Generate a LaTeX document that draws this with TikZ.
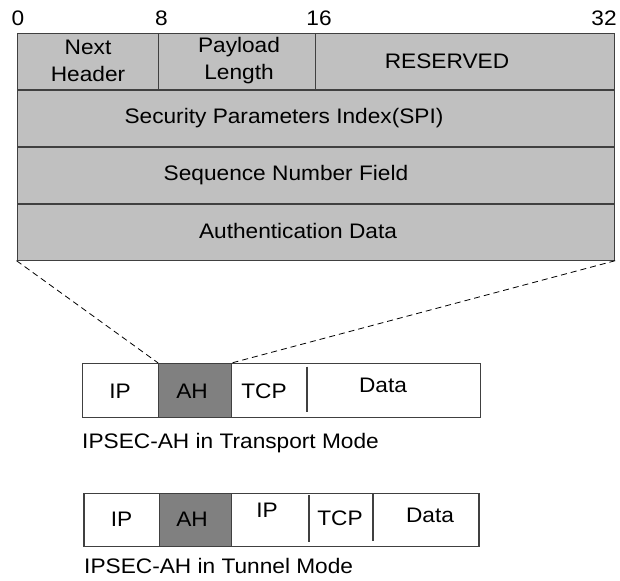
\documentclass[tikz,border=0pt]{standalone}
\usepackage{fontspec}
\setmainfont[FakeStretch=1.08]{Liberation Sans}
\definecolor{cellgray}{HTML}{C0C0C0}
\definecolor{ahgray}{HTML}{808080}
\definecolor{edge}{HTML}{404040}
\begin{document}
\begin{tikzpicture}[x=1pt,y=-1pt,
  txt/.style={font=\fontsize{21}{27}\selectfont, inner sep=0pt, align=center},
  field/.style={draw=edge, line width=1.2pt, fill=cellgray, inner sep=0pt, anchor=north west},
  pkt/.style={draw=edge, line width=1.2pt, fill=white, inner sep=0pt, anchor=north west},
  ahbox/.style={fill=ahgray, draw=edge, line width=0.8pt, inner sep=0pt, anchor=north west},
  sep/.style={draw=edge, line width=1.2pt},
  zoomline/.style={draw=black, dash pattern=on 6pt off 4pt, line width=0.8pt}]
\useasboundingbox (0,0) rectangle (620,580);
% bit numbers
\node[txt] (b0) at (18,18) {0};
\node[txt] (b8) at (161.5,18) {8};
\node[txt] (b16) at (319,18) {16};
\node[txt] (b32) at (604,18) {32};
% header
\node[field, minimum width=597.5pt, minimum height=226.5pt] (hdr) at (16.5,33) {};
\node[field, minimum width=141.5pt, minimum height=56.5pt] (nh) at (16.5,33) {};
\node[field, minimum width=157pt, minimum height=56.5pt] (pl) at (158,33) {};
\node[field, minimum width=299pt, minimum height=56.5pt] (rs) at (315,33) {};
\node[field, minimum width=597.5pt, minimum height=57pt] (spi) at (16.5,89.5) {};
\node[field, minimum width=597.5pt, minimum height=56.8pt] (seq) at (16.5,146.5) {};
\node[field, minimum width=597.5pt, minimum height=56.2pt] (auth) at (16.5,203.3) {};
\node[txt] (tnh) at (88,61) {Next\\Header};
\node[txt] (tpl) at (239,61) {Payload\\Length};
\node[txt] (trs) at (447,61.5) {RESERVED};
\node[txt] (tspi) at (284,118) {Security Parameters Index(SPI)};
\node[txt] (tseq) at (286,175) {Sequence Number Field};
\node[txt] (tauth) at (298,231) {Authentication Data};
% transport mode packet
\node[pkt, minimum width=398pt, minimum height=53.5pt] (tp) at (82,363) {};
\node[ahbox, minimum width=72.5pt, minimum height=53.5pt] (ah1) at (158.2,363) {};
\coordinate (t1a) at (307,366.7);
\coordinate (t1b) at (307,411.7);
\draw[sep] (t1a) -- (t1b);
\node[txt] (tip) at (120,391) {IP};
\node[txt] (tah) at (192,391) {AH};
\node[txt] (ttcp) at (264,391) {TCP};
\node[txt] (tdata) at (383,385) {Data};
\node[txt, anchor=west] (cap1) at (82,443) {IPSEC-AH in Transport Mode};
% dashed zoom lines
\draw[zoomline] (hdr.south west) -- (ah1.north west);
\draw[zoomline] (hdr.south east) -- (ah1.north east);
% tunnel mode packet
\node[pkt, minimum width=395pt, minimum height=53pt] (tn) at (83.3,492.7) {};
\node[ahbox, minimum width=71.7pt, minimum height=53pt] (ah2) at (159.3,492.7) {};
\coordinate (u1a) at (309,495);
\coordinate (u1b) at (309,542);
\coordinate (u2a) at (373,494);
\coordinate (u2b) at (373,541);
\draw[sep] (u1a) -- (u1b);
\draw[sep] (u2a) -- (u2b);
\node[txt] (uip) at (121.5,519.5) {IP};
\node[txt] (uah) at (192,519.5) {AH};
\node[txt] (uip2) at (267,510) {IP};
\node[txt] (utcp) at (340,518.5) {TCP};
\node[txt] (udata) at (430,515) {Data};
\node[txt, anchor=west] (cap2) at (84,566) {IPSEC-AH in Tunnel Mode};
\end{tikzpicture}
\end{document}
